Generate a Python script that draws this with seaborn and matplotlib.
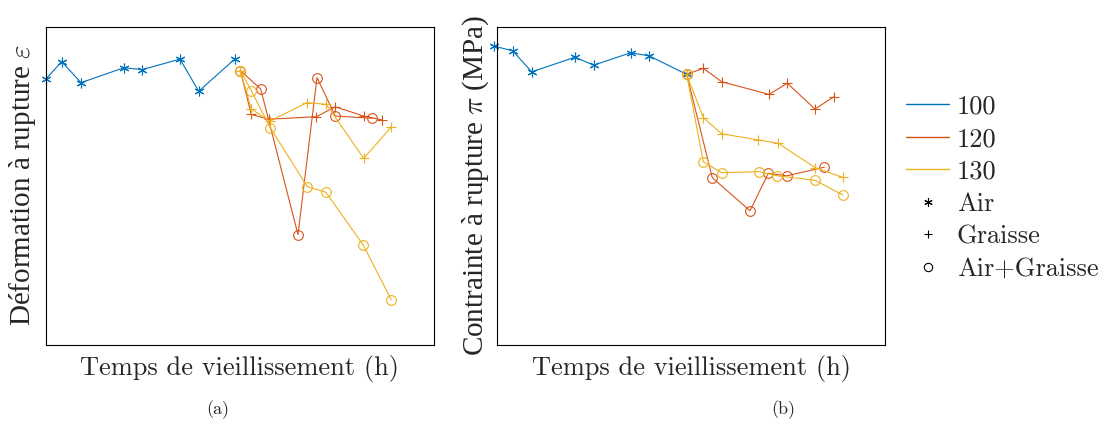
import matplotlib
matplotlib.use("Agg")
import matplotlib.pyplot as plt
import seaborn as sns
from matplotlib.lines import Line2D

# (a) Déformation à rupture -- temps (h), valeurs relatives
t_a_100 = [0, 157, 350, 780, 963, 1340, 1527, 1887]
eps_100 = [83.7, 89.1, 82.5, 87.2, 86.6, 89.9, 79.8, 89.9]

t_a_120_g = [1943, 2053, 2227, 2703, 2893, 3177, 3360]
eps_120_g = [86.3, 72.5, 71.0, 71.8, 74.9, 72.0, 70.8]
t_a_120_ag = [1943, 2147, 2520, 2710, 2893, 3263]
eps_120_ag = [86.3, 80.5, 34.7, 84.1, 72.0, 71.3]

t_a_130_g = [1943, 2053, 2237, 2610, 2803, 3177, 3453]
eps_130_g = [86.3, 74.2, 70.4, 76.2, 75.7, 58.7, 68.6]
t_a_130_ag = [1943, 2053, 2243, 2613, 2800, 3173, 3453]
eps_130_ag = [86.3, 80.0, 68.3, 49.8, 48.0, 31.4, 14.2]

# (b) Contrainte à rupture
t_b_100 = [0, 187, 377, 810, 997, 1367, 1553, 1927]
sig_100 = [94.0, 92.5, 85.9, 90.5, 88.0, 91.9, 90.9, 85.1]

t_b_120_g = [1927, 2093, 2277, 2750, 2933, 3210, 3400]
sig_120_g = [85.1, 87.0, 82.8, 78.8, 82.3, 74.2, 78.1]
t_b_120_ag = [1927, 2183, 2560, 2743, 2927, 3303]
sig_120_ag = [85.1, 52.6, 42.2, 54.0, 53.2, 55.9]

t_b_130_g = [1927, 2093, 2277, 2643, 2843, 3210, 3487]
sig_130_g = [85.1, 71.5, 66.4, 64.5, 63.4, 55.8, 52.7]
t_b_130_ag = [1927, 2093, 2277, 2650, 2833, 3210, 3487]
sig_130_ag = [85.1, 57.6, 54.2, 54.5, 53.2, 51.8, 47.2]

temperatures = ["100", "120", "130"]
colors = ["#0072BD", "#D95319", "#EDB120"]
environments = ["Air", "Graisse", "Air+Graisse"]
asterisk = (6, 2, 0)
markers = [asterisk, "+", "o"]

sns.set_theme(style="white")
plt.rcParams["font.family"] = ["cmr10", "DejaVu Serif"]
plt.rcParams["mathtext.fontset"] = "cm"
plt.rcParams["axes.formatter.use_mathtext"] = True

fig = plt.figure(figsize=(11.07, 4.26), dpi=100)
W, H = 1107, 426
ax1 = fig.add_axes([46 / W, 1 - 345 / H, 388 / W, 318 / H])
ax2 = fig.add_axes([497 / W, 1 - 345 / H, 388 / W, 318 / H])


def trace(ax, x, y, color, marker):
    sns.lineplot(x=x, y=y, ax=ax, color=color, marker=marker, sort=False,
                 estimator=None, lw=0.8, markersize=7,
                 markerfacecolor="none", markeredgecolor=color,
                 markeredgewidth=0.8, clip_on=False)


# panneau (a)
trace(ax1, t_a_100, eps_100, colors[0], markers[0])
trace(ax1, t_a_120_g, eps_120_g, colors[1], markers[1])
trace(ax1, t_a_120_ag, eps_120_ag, colors[1], markers[2])
trace(ax1, t_a_130_g, eps_130_g, colors[2], markers[1])
trace(ax1, t_a_130_ag, eps_130_ag, colors[2], markers[2])

# panneau (b)
trace(ax2, t_b_100, sig_100, colors[0], markers[0])
trace(ax2, t_b_120_g, sig_120_g, colors[1], markers[1])
trace(ax2, t_b_120_ag, sig_120_ag, colors[1], markers[2])
trace(ax2, t_b_130_g, sig_130_g, colors[2], markers[1])
trace(ax2, t_b_130_ag, sig_130_ag, colors[2], markers[2])

ax1.set_xlim(0, 3880)
ax2.set_xlim(30, 3910)
for ax in (ax1, ax2):
    ax.set_ylim(0, 100)
    ax.set_xticks([])
    ax.set_yticks([])
    for s in ax.spines.values():
        s.set_color("black")
        s.set_linewidth(0.8)
    ax.set_xlabel("Temps de vieillissement (h)", fontsize=19)

# cmr10 n'a pas les lettres accentuées : police serif de secours pour ces deux titres
ax1.set_ylabel(r"Déformation à rupture $\varepsilon$", fontsize=21,
               family="Liberation Serif")
ax2.set_ylabel(r"Contrainte à rupture $\pi$ (MPa)", fontsize=21,
               family="Liberation Serif")
ax1.xaxis.set_label_coords(0.5, -0.03)
ax2.xaxis.set_label_coords(0.5, -0.03)
ax1.yaxis.set_label_coords(-0.02, 0.503)
ax2.yaxis.set_label_coords(-0.015, 0.5)

fig.text(218 / W, 1 - 410 / H, "(a)", ha="center", va="center", fontsize=13)
fig.text(783 / W, 1 - 410 / H, "(b)", ha="center", va="center", fontsize=13)

handles = [Line2D([], [], color=c, lw=1) for c in colors]
handles += [Line2D([], [], ls="none", marker=m, color="black",
                   markerfacecolor="none", markersize=6, markeredgewidth=0.8)
            for m in markers]
fig.legend(handles, temperatures + environments, loc="upper left",
           bbox_to_anchor=(906 / W, 1 - 95 / H), frameon=False, fontsize=19,
           borderpad=0, borderaxespad=0, handlelength=1.63,
           handletextpad=0.3, labelspacing=0.33)

fig.savefig("out.png", dpi=100)
